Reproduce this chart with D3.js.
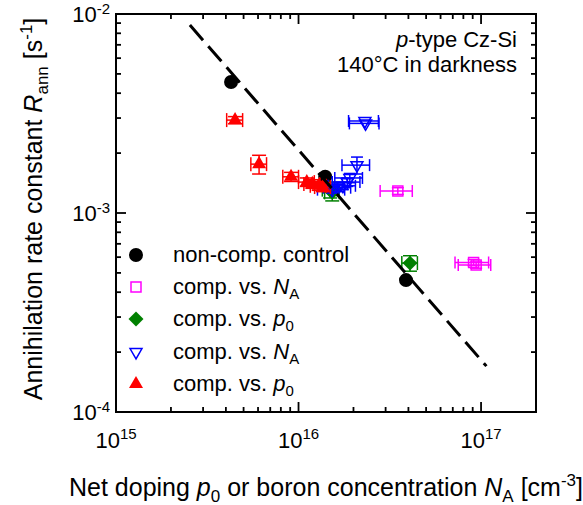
<!DOCTYPE html>
<html>
<head>
<meta charset="utf-8">
<script src="https://cdn.jsdelivr.net/npm/d3@7"></script>
<style>
  body { margin: 0; background: #fff; }
  text { font-family: Arial, "Liberation Sans", sans-serif; fill: #000; }
</style>
</head>
<body>
<div id="chart"></div>
<script>
const width = 583;
const height = 505;
const margin = { top: 14, right: 47, bottom: 93, left: 116 };

// data: x [cm^-3], y [s^-1], errors as +/- absolute values
const controlX = [4.27e15, 1.40e16, 3.88e16];
const controlY = [4.55e-3, 1.52e-3, 4.6e-4];

const magentaX = [3.5e16, 9.1e16, 9.4e16];
const magentaY = [1.29e-3, 5.64e-4, 5.48e-4];
const magentaDX = [0.7e16, 1.9e16, 1.9e16];
const magentaDY = [0.05e-3, 0.2e-4, 0.2e-4];

const greenX = [1.49e16, 1.53e16, 4.08e16];
const greenY = [1.31e-3, 1.27e-3, 5.6e-4];
const greenDX = [0.14e16, 0.14e16, 0.4e16];
const greenDY = [0.12e-3, 0.12e-3, 0.5e-4];

const blueX = [2.31e16, 2.33e16, 2.09e16, 1.91e16, 1.85e16, 1.75e16, 1.65e16, 1.53e16];
const blueY = [2.90e-3, 2.82e-3, 1.74e-3, 1.50e-3, 1.43e-3, 1.37e-3, 1.34e-3, 1.31e-3];
const blueDX = [0.43e16, 0.43e16, 0.36e16, 0.33e16, 0.32e16, 0.3e16, 0.28e16, 0.26e16];
const blueDY = [0.02e-3, 0.02e-3, 0.17e-3, 0.08e-3, 0.07e-3, 0.06e-3, 0.06e-3, 0.05e-3];

const redX = [4.49e15, 6.08e15, 9.1e15, 1.11e16, 1.19e16, 1.29e16, 1.36e16];
const redY = [2.93e-3, 1.76e-3, 1.52e-3, 1.43e-3, 1.40e-3, 1.37e-3, 1.35e-3];
const redDX = [0.45e15, 0.6e15, 0.9e15, 1.1e15, 1.2e15, 1.3e15, 1.35e15];
const redDY = [0.12e-3, 0.19e-3, 0.08e-3, 0.07e-3, 0.07e-3, 0.07e-3, 0.07e-3];

// dashed fit line end points
const fitX = [2.54e15, 1.07e17];
const fitY = [8.8e-3, 1.70e-4];

const xTicks = [1e15, 1e16, 1e17];
const xTickExp = ["15", "16", "17"];
const yTicks = [1e-2, 1e-3, 1e-4];
const yTickExp = ["-2", "-3", "-4"];

const svg = d3.select("#chart").append("svg")
  .attr("width", width)
  .attr("height", height);

const x = d3.scaleLog().domain([1e15, 2e17]).range([margin.left, width - margin.right]);
const y = d3.scaleLog().domain([1e-4, 1e-2]).range([height - margin.bottom, margin.top]);

const x0 = x.range()[0], x1 = x.range()[1];
const y0 = y.range()[0], y1 = y.range()[1];

// minor/major ticks, all pointing inward
const xMinor = [];
for (let e = 15; e <= 16; e++) for (let m = 2; m <= 9; m++) xMinor.push(m * Math.pow(10, e));
const yMinor = [];
for (let e = -4; e <= -3; e++) for (let m = 2; m <= 9; m++) yMinor.push(m * Math.pow(10, e));

const ticks = svg.append("g").attr("stroke", "#000").attr("stroke-width", 1.8);
function tickLines(vals, len, horiz) {
  vals.forEach(v => {
    if (horiz) {
      const px = x(v);
      ticks.append("line").attr("x1", px).attr("x2", px).attr("y1", y0).attr("y2", y0 - len);
      ticks.append("line").attr("x1", px).attr("x2", px).attr("y1", y1).attr("y2", y1 + len);
    } else {
      const py = y(v);
      ticks.append("line").attr("y1", py).attr("y2", py).attr("x1", x0).attr("x2", x0 + len);
      ticks.append("line").attr("y1", py).attr("y2", py).attr("x1", x1).attr("x2", x1 - len);
    }
  });
}
tickLines(xMinor, 5, true);
tickLines(xTicks, 10, true);
tickLines(yMinor, 5, false);
tickLines(yTicks, 10, false);

svg.append("rect")
  .attr("x", x0).attr("y", y1)
  .attr("width", x1 - x0).attr("height", y0 - y1)
  .attr("fill", "none").attr("stroke", "#000").attr("stroke-width", 2);

// tick labels
const xl = svg.append("g").selectAll("text").data(xTicks).enter().append("text")
  .attr("x", d => x(d)).attr("y", 448)
  .attr("text-anchor", "middle")
  .attr("font-size", 22);
xl.append("tspan").text("10");
xl.append("tspan").attr("font-size", 15).attr("dy", -9).text((d, i) => xTickExp[i]);

const yl = svg.append("g").selectAll("text").data(yTicks).enter().append("text")
  .attr("x", 110).attr("y", d => y(d) + 8)
  .attr("text-anchor", "end")
  .attr("font-size", 22);
yl.append("tspan").text("10");
yl.append("tspan").attr("font-size", 15).attr("dy", -8).text((d, i) => yTickExp[i]);

// axis titles
const xt = svg.append("text").attr("x", 326).attr("y", 496)
  .attr("text-anchor", "middle").attr("font-size", 25);
xt.append("tspan").text("Net doping ");
xt.append("tspan").attr("font-style", "italic").text("p");
xt.append("tspan").attr("font-size", 17).attr("dy", 6).text("0");
xt.append("tspan").attr("dy", -6).text(" or boron concentration ");
xt.append("tspan").attr("font-style", "italic").text("N");
xt.append("tspan").attr("font-size", 17).attr("dy", 6).text("A");
xt.append("tspan").attr("dy", -6).text(" [cm");
xt.append("tspan").attr("font-size", 17).attr("dy", -10).text("-3");
xt.append("tspan").attr("dy", 10).text("]");

const yt = svg.append("text")
  .attr("transform", "translate(42,209) rotate(-90)")
  .attr("text-anchor", "middle").attr("font-size", 25);
yt.append("tspan").text("Annihilation rate constant ");
yt.append("tspan").attr("font-style", "italic").text("R");
yt.append("tspan").attr("font-size", 17).attr("dy", 6).text("ann");
yt.append("tspan").attr("dy", -6).text(" [s");
yt.append("tspan").attr("font-size", 17).attr("dy", -10).text("-1");
yt.append("tspan").attr("dy", 10).text("]");

// annotation
const an = svg.append("text").attr("x", 517).attr("y", 47).attr("text-anchor", "end").attr("font-size", 22);
an.append("tspan").attr("font-style", "italic").text("p");
an.append("tspan").text("-type Cz-Si");
svg.append("text").attr("x", 517).attr("y", 72).attr("text-anchor", "end").attr("font-size", 22)
  .text("140°C in darkness");

// series
const symbolPath = (type, size) => d3.symbol().type(type).size(size)();
const series = [
  { xs: controlX, ys: controlY, color: "#000", fill: "#000", type: d3.symbolCircle, size: 154, rot: 0, label: ["non-comp. control"] },
  { xs: magentaX, ys: magentaY, dx: magentaDX, dy: magentaDY, color: "#ff00ff", fill: "none", type: d3.symbolSquare, size: 100, rot: 0, cap: 6, label: ["comp. vs. ", "N", "A"] },
  { xs: greenX, ys: greenY, dx: greenDX, dy: greenDY, color: "#008000", fill: "#008000", type: d3.symbolSquare, size: 112, rot: 45, cap: 7, label: ["comp. vs. ", "p", "0"] },
  { xs: blueX, ys: blueY, dx: blueDX, dy: blueDY, color: "#0000ff", fill: "none", type: d3.symbolTriangle, size: 62, rot: 180, cap: 6, label: ["comp. vs. ", "N", "A"] },
  { xs: redX, ys: redY, dx: redDX, dy: redDY, color: "#ff0000", fill: "#ff0000", type: d3.symbolTriangle, size: 85, rot: 0, cap: 7, label: ["comp. vs. ", "p", "0"] }
];

series.forEach(s => {
  const g = svg.append("g");
  const pts = s.xs.map((v, i) => ({ x: v, y: s.ys[i], dx: s.dx ? s.dx[i] : 0, dy: s.dy ? s.dy[i] : 0 }));
  if (s.dx) {
    const eb = g.append("g").attr("stroke", s.color).attr("stroke-width", 1.5);
    pts.forEach(p => {
      const cx = x(p.x), cy = y(p.y);
      const xa = x(p.x - p.dx), xb = x(p.x + p.dx);
      const ya = y(p.y - p.dy), yb = y(p.y + p.dy);
      eb.append("line").attr("x1", xa).attr("x2", xb).attr("y1", cy).attr("y2", cy);
      eb.append("line").attr("x1", xa).attr("x2", xa).attr("y1", cy - s.cap).attr("y2", cy + s.cap);
      eb.append("line").attr("x1", xb).attr("x2", xb).attr("y1", cy - s.cap).attr("y2", cy + s.cap);
      if (Math.abs(yb - ya) > 3) {
        eb.append("line").attr("x1", cx).attr("x2", cx).attr("y1", ya).attr("y2", yb);
        eb.append("line").attr("x1", cx - s.cap).attr("x2", cx + s.cap).attr("y1", ya).attr("y2", ya);
        eb.append("line").attr("x1", cx - s.cap).attr("x2", cx + s.cap).attr("y1", yb).attr("y2", yb);
      }
    });
  }
  g.selectAll("path.m").data(pts).enter().append("path")
    .attr("class", "m")
    .attr("d", symbolPath(s.type, s.size))
    .attr("transform", d => `translate(${x(d.x)},${y(d.y)}) rotate(${s.rot})`)
    .attr("fill", s.fill)
    .attr("stroke", s.color)
    .attr("stroke-width", s.fill === "none" ? 1.5 : 0);
});

// dashed fit line drawn on top
svg.append("line")
  .attr("x1", x(fitX[0])).attr("y1", y(fitY[0]))
  .attr("x2", x(fitX[1])).attr("y2", y(fitY[1]))
  .attr("stroke", "#000").attr("stroke-width", 3)
  .attr("stroke-dasharray", "20,8");

// legend
const legY = [255, 287, 319, 352, 384];
series.forEach((s, i) => {
  svg.append("path")
    .attr("d", symbolPath(s.type, s.size))
    .attr("transform", `translate(136,${legY[i]}) rotate(${s.rot})`)
    .attr("fill", s.fill)
    .attr("stroke", s.color)
    .attr("stroke-width", s.fill === "none" ? 1.5 : 0);
  const t = svg.append("text").attr("x", 173).attr("y", legY[i] + 7).attr("font-size", 22);
  t.append("tspan").text(s.label[0]);
  if (s.label.length > 1) {
    t.append("tspan").attr("font-style", "italic").text(s.label[1]);
    t.append("tspan").attr("font-size", 15).attr("dy", 5).text(s.label[2]);
  }
});
</script>
</body>
</html>
